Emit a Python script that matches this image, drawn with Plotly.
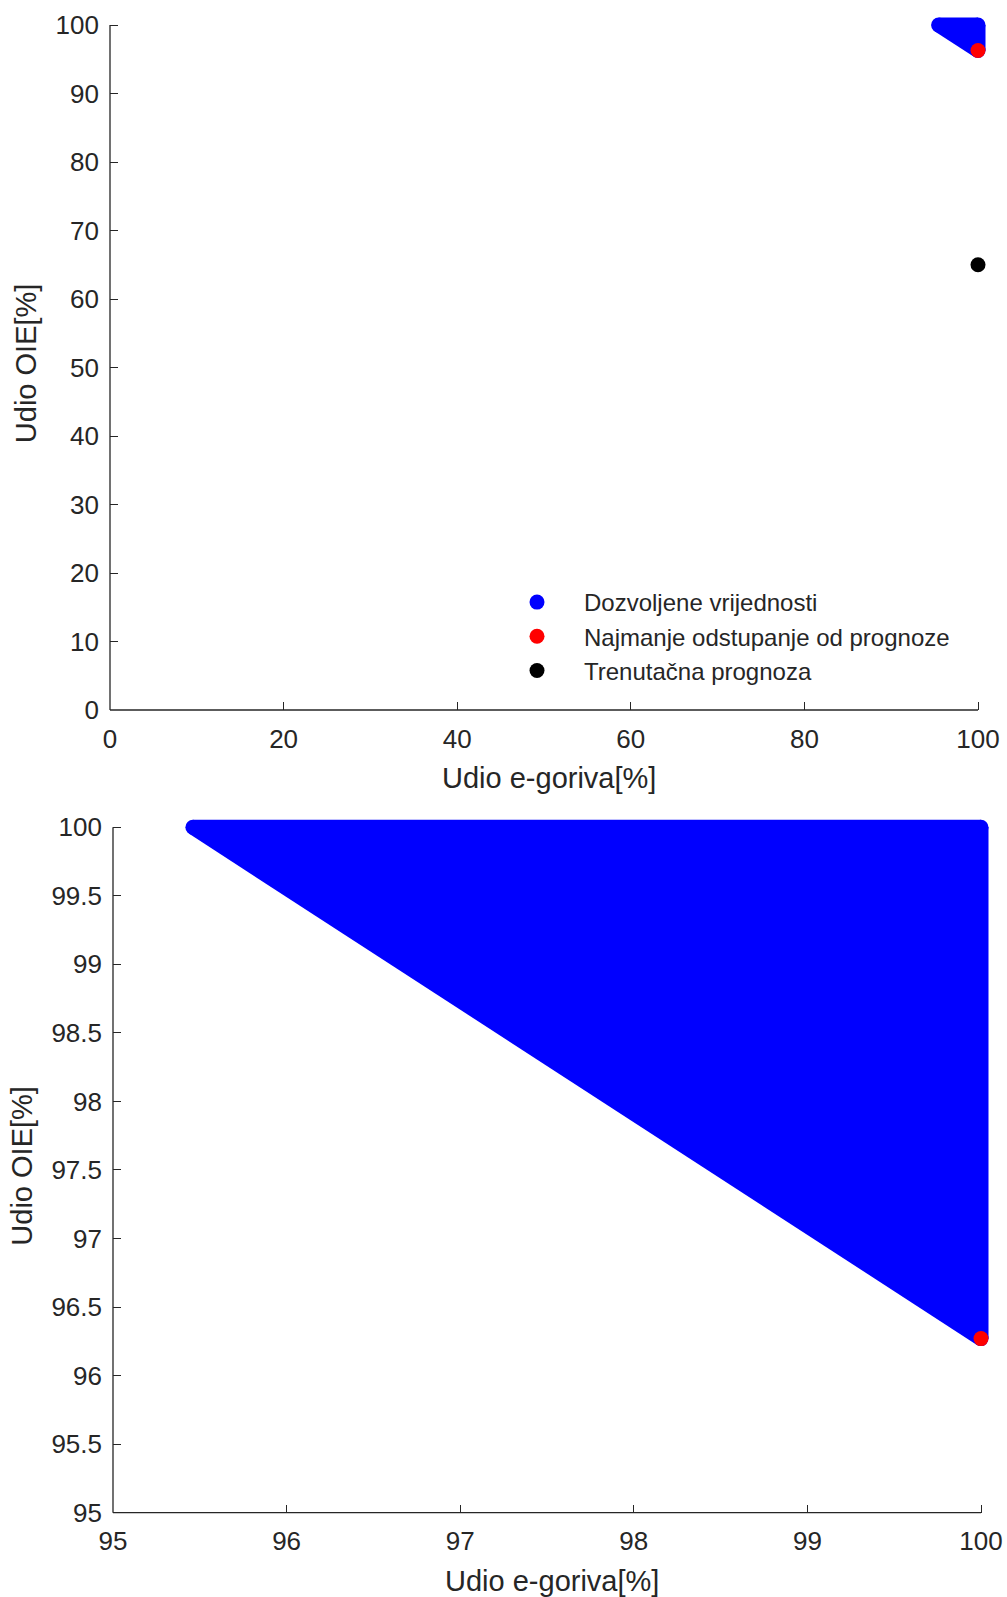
import plotly.graph_objects as go

# ---------------- data ----------------
# vertices of the feasible (allowed) region, in %
region_x = [95.46, 100.0, 100.0]
region_y = [100.0, 100.0, 96.27]
# smallest deviation from forecast
best_x = [100.0]
best_y = [96.27]
# current forecast
current_x = [100.0]
current_y = [65.0]

top_xticks = [0, 20, 40, 60, 80, 100]
top_yticks = [0, 10, 20, 30, 40, 50, 60, 70, 80, 90, 100]
bot_xticks = [95, 96, 97, 98, 99, 100]
bot_yticks = [95, 95.5, 96, 96.5, 97, 97.5, 98, 98.5, 99, 99.5, 100]
bot_ytext = ["95", "95.5", "96", "96.5", "97", "97.5", "98", "98.5", "99", "99.5", "100"]

names = ["Dozvoljene vrijednosti", "Najmanje odstupanje od prognoze", "Trenutačna prognoza"]
x_title = "Udio e-goriva[%]"
y_title = "Udio OIE[%]"

# ---------------- layout constants ----------------
W, H = 1007, 1597
PAD = 0.012          # small range padding beyond 100 so round markers are not clipped
MS = 15              # marker diameter
BLUE, RED, BLACK = "#0000FF", "#FF0000", "#000000"
AX = "#262626"
FONT = "Liberation Sans, Arial, Helvetica, sans-serif"


def dom(px0, px1, size, flip=False):
    span = px1 - px0
    if not flip:
        return [px0 / size, (px0 + span * (1 + PAD)) / size]
    # vertical: px0 = pixel of bottom value (larger), px1 = pixel of top value
    span = px0 - px1
    return [(size - px0) / size, (size - (px1 - span * PAD)) / size]


top_xdom = dom(110, 978, W)
top_ydom = dom(710, 25, H, flip=True)
bot_xdom = dom(113, 981, W)
bot_ydom = dom(1512.7, 827.3, H, flip=True)

fig = go.Figure()


def add_region(xa, ya, legend):
    # filled polygon
    fig.add_trace(go.Scatter(
        x=region_x + [region_x[0]], y=region_y + [region_y[0]],
        xaxis=xa, yaxis=ya, mode="lines", fill="toself",
        fillcolor=BLUE, line=dict(width=0, color=BLUE),
        showlegend=False, hoverinfo="skip"))
    # thick edges (separate segments, so no sharp joins)
    ex, ey = [], []
    n = len(region_x)
    for i in range(n):
        j = (i + 1) % n
        ex += [region_x[i], region_x[j], None]
        ey += [region_y[i], region_y[j], None]
    fig.add_trace(go.Scatter(
        x=ex, y=ey, xaxis=xa, yaxis=ya, mode="lines",
        line=dict(width=MS, color=BLUE), showlegend=False, hoverinfo="skip"))
    # rounded corners (and legend entry)
    fig.add_trace(go.Scatter(
        x=region_x, y=region_y, xaxis=xa, yaxis=ya, mode="markers",
        marker=dict(size=MS, color=BLUE), name=names[0],
        showlegend=legend, cliponaxis=False))


add_region("x", "y", True)
fig.add_trace(go.Scatter(x=best_x, y=best_y, xaxis="x", yaxis="y", mode="markers",
                         marker=dict(size=MS, color=RED), name=names[1], cliponaxis=False))
fig.add_trace(go.Scatter(x=current_x, y=current_y, xaxis="x", yaxis="y", mode="markers",
                         marker=dict(size=MS, color=BLACK), name=names[2], cliponaxis=False))

add_region("x2", "y2", False)
fig.add_trace(go.Scatter(x=best_x, y=best_y, xaxis="x2", yaxis="y2", mode="markers",
                         marker=dict(size=MS, color=RED), name=names[1],
                         showlegend=False, cliponaxis=False))

tickfont = dict(family=FONT, size=26, color=AX)
titlefont = dict(family=FONT, size=29, color=AX)

common = dict(showgrid=False, zeroline=False, showline=False, ticks="inside",
              ticklen=8, tickwidth=1, tickcolor=AX, tickfont=tickfont, automargin=False)

fig.update_layout(
    template="none",
    width=W, height=H, margin=dict(l=0, r=0, t=0, b=0, pad=0),
    paper_bgcolor="white", plot_bgcolor="white",
    xaxis=dict(domain=top_xdom, anchor="y",
               range=[top_xticks[0], top_xticks[-1] + (top_xticks[-1] - top_xticks[0]) * PAD],
               tickvals=top_xticks, ticklabelstandoff=11,
               title=dict(text=x_title, font=titlefont, standoff=14), **common),
    yaxis=dict(domain=top_ydom, anchor="x",
               range=[top_yticks[0], top_yticks[-1] + (top_yticks[-1] - top_yticks[0]) * PAD],
               tickvals=top_yticks, ticklabelstandoff=10,
               title=dict(text=y_title, font=titlefont, standoff=10), **common),
    xaxis2=dict(domain=bot_xdom, anchor="y2",
                range=[bot_xticks[0], bot_xticks[-1] + (bot_xticks[-1] - bot_xticks[0]) * PAD],
                tickvals=bot_xticks, ticklabelstandoff=10,
                title=dict(text=x_title, font=titlefont, standoff=17), **common),
    yaxis2=dict(domain=bot_ydom, anchor="x2",
                range=[bot_yticks[0], bot_yticks[-1] + (bot_yticks[-1] - bot_yticks[0]) * PAD],
                tickvals=bot_yticks, ticktext=bot_ytext, ticklabelstandoff=10,
                title=dict(text=y_title, font=titlefont, standoff=10), **common),
    legend=dict(x=490 / W, y=(H - 580) / H, xanchor="left", yanchor="top",
                bgcolor="rgba(0,0,0,0)", borderwidth=0, itemwidth=84,
                font=dict(family=FONT, size=24, color=AX)),
    showlegend=True,
)

# axis lines (box off: left and bottom only), ending at the last tick
end = 1 / (1 + PAD)
for xa, ya in (("x", "y"), ("x2", "y2")):
    fig.add_shape(type="line", xref=f"{xa} domain", yref=f"{ya} domain",
                  x0=0, x1=end, y0=0, y1=0, line=dict(color=AX, width=1.3), layer="below")
    fig.add_shape(type="line", xref=f"{xa} domain", yref=f"{ya} domain",
                  x0=0, x1=0, y0=0, y1=end, line=dict(color=AX, width=1.3), layer="below")

fig.write_html("out.html")
